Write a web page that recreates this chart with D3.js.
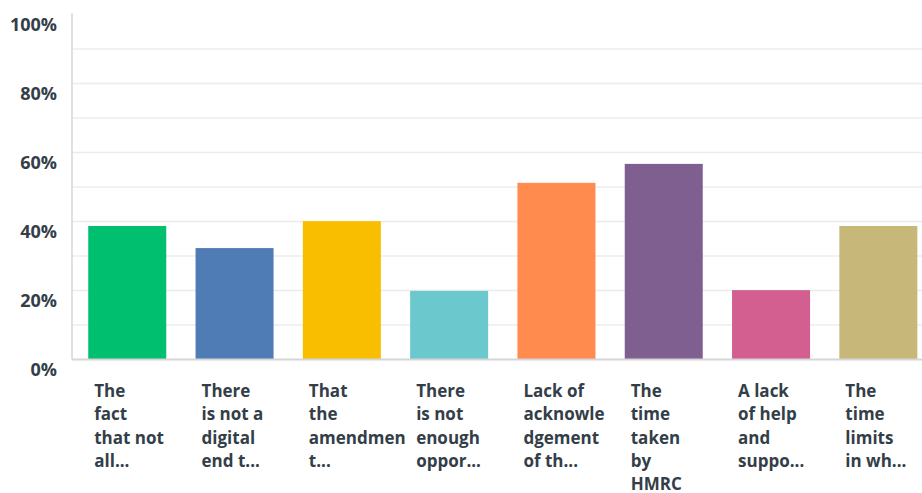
<!DOCTYPE html>
<html>
<head>
<meta charset="utf-8">
<script src="https://cdn.jsdelivr.net/npm/d3@7"></script>
<style>
  body { margin: 0; background: #fff; }
  svg text { font-family: "Open Sans", sans-serif; font-weight: 700; fill: #333e48; }
</style>
</head>
<body>
<div id="root"></div>
<script>
// answer labels, already cut the way the survey tool shows them
const labels = [
  ["The", "fact", "that not", "all..."],
  ["There", "is not a", "digital", "end t..."],
  ["That", "the", "amendmen", "t..."],
  ["There", "is not", "enough", "oppor..."],
  ["Lack of", "acknowle", "dgement", "of th..."],
  ["The", "time", "taken", "by", "HMRC"],
  ["A lack", "of help", "and", "suppo..."],
  ["The", "time", "limits", "in wh..."]
];
const values = [38.7, 32.3, 40.1, 19.9, 51.2, 56.7, 20.1, 38.7];
const colors = ["#00bf6f", "#507cb6", "#f9be00", "#6bc8cd", "#ff8b4f", "#7f5f90", "#d25f90", "#c7b879"];
const tickVals = [0, 20, 40, 60, 80, 100];
const gridVals = [10, 20, 30, 40, 50, 60, 70, 80, 90];

const width = 922, height = 493;
const plotLeft = 72, plotTop = 14.5, plotBottom = 359.5;

const svg = d3.select("#root").append("svg")
  .attr("width", width)
  .attr("height", height);

const x = d3.scaleBand()
  .domain(d3.range(values.length))
  .range([73.6, 73.6 + 8 * 107.3])
  .paddingInner(0.273)
  .paddingOuter(0.1365);

const y = d3.scaleLinear().domain([0, 100]).range([plotBottom, plotTop]);

// grid
svg.append("g")
  .selectAll("line")
  .data(gridVals)
  .enter()
  .append("line")
  .attr("x1", plotLeft)
  .attr("x2", width)
  .attr("y1", d => y(d))
  .attr("y2", d => y(d))
  .attr("stroke", "#ececec")
  .attr("stroke-width", 1.5);

// bars
svg.append("g")
  .selectAll("rect")
  .data(values)
  .enter()
  .append("rect")
  .attr("x", (d, i) => x(i))
  .attr("y", d => y(d))
  .attr("width", x.bandwidth())
  .attr("height", d => y(0) - y(d))
  .attr("fill", (d, i) => colors[i]);

// y axis
const yAxis = svg.append("g")
  .attr("transform", "translate(" + plotLeft + ",0)")
  .call(d3.axisLeft(y).tickValues(tickVals).tickSize(0).tickPadding(15).tickFormat(d => d + "%"));
yAxis.select(".domain").remove();
yAxis.selectAll("text")
  .attr("dy", "0.9em")
  .style("font-size", "18px")
  .style("font-family", "'Open Sans', sans-serif")
  .style("font-weight", 700)
  .attr("fill", "#333e48");

svg.append("line")
  .attr("x1", plotLeft).attr("x2", plotLeft)
  .attr("y1", 13).attr("y2", plotBottom)
  .attr("stroke", "#d6d6d6")
  .attr("stroke-width", 1.5);

svg.append("line")
  .attr("x1", plotLeft).attr("x2", width)
  .attr("y1", plotBottom).attr("y2", plotBottom)
  .attr("stroke", "#d6d6d6")
  .attr("stroke-width", 2);

// category labels
const lab = svg.append("g")
  .selectAll("text")
  .data(labels)
  .enter()
  .append("text")
  .attr("x", (d, i) => x(i) + 6)
  .attr("y", 397)
  .style("font-size", "17px");

lab.selectAll("tspan")
  .data(d => d)
  .enter()
  .append("tspan")
  .attr("x", function() { return d3.select(this.parentNode).attr("x"); })
  .attr("dy", (d, i) => i === 0 ? 0 : 23.3)
  .text(d => d);
</script>
</body>
</html>
